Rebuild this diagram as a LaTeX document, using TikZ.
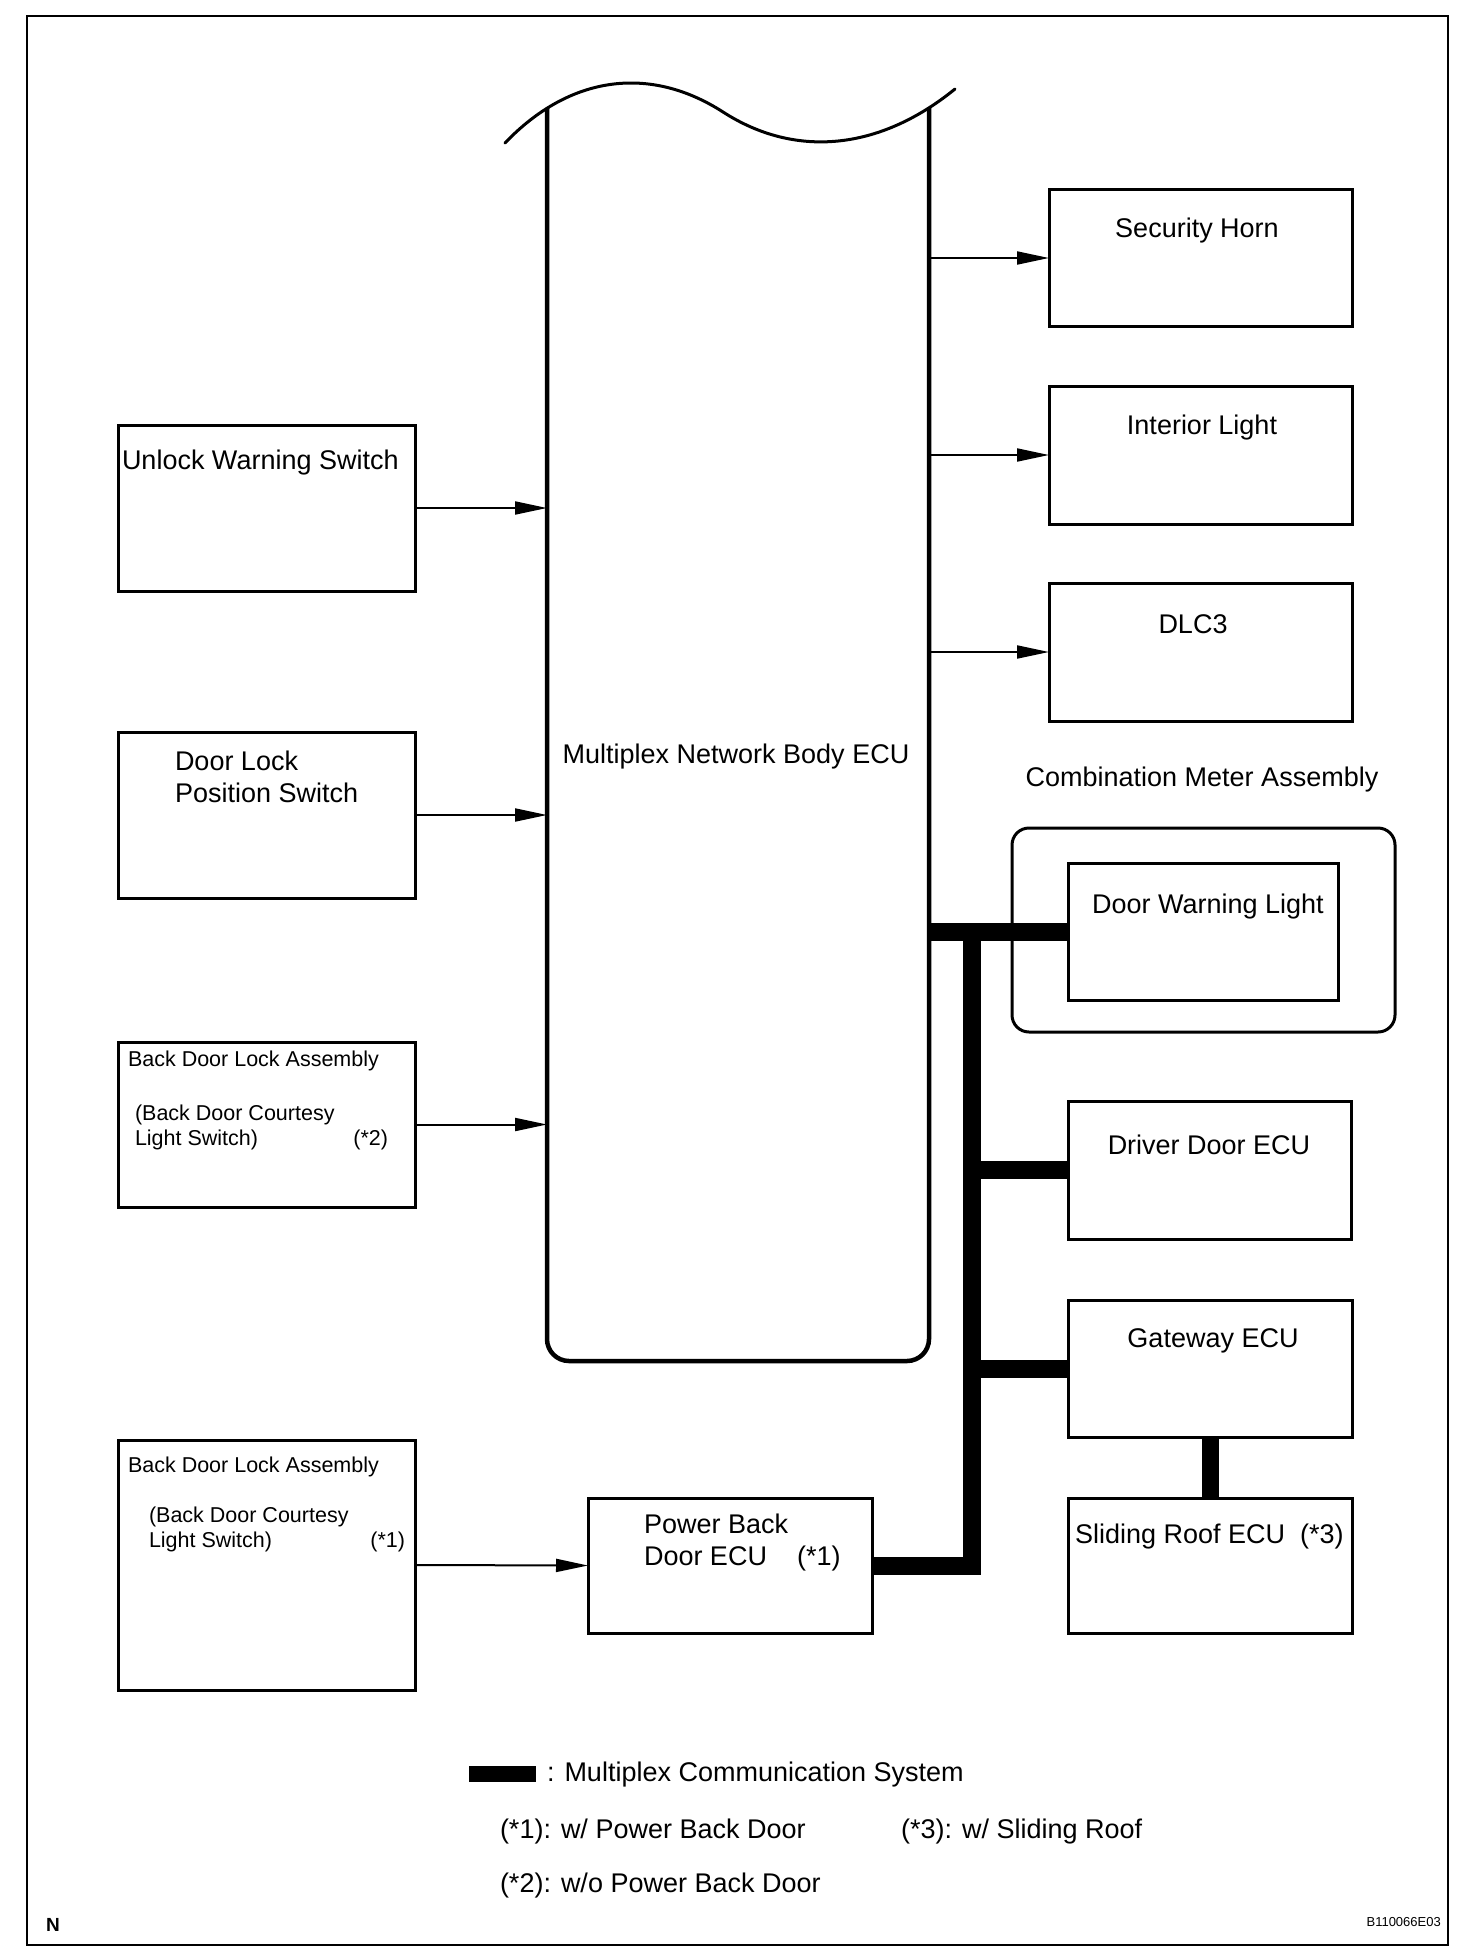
\documentclass[tikz,border=0pt]{standalone}
\usepackage{fontspec}
\setmainfont{Liberation Sans}
\usetikzlibrary{arrows.meta,calc}
\begin{document}
\begin{tikzpicture}[x=1pt,y=-1pt,
  box/.style={draw, line width=3pt, inner sep=0pt, outer sep=0pt, rectangle},
  big/.style={font=\fontsize{27}{32}\selectfont, inner sep=0pt, outer sep=0pt},
  small/.style={font=\fontsize{21.5}{25}\selectfont, inner sep=0pt, outer sep=0pt},
  arr/.style={line width=2pt, -{Triangle[length=32pt,width=13pt]}},
  bus/.style={line width=18pt, line join=miter},
  eculine/.style={line width=4.5pt},
  wave/.style={line width=3pt, line cap=round},
]
\useasboundingbox (0,0) rectangle (1472,1958);
% outer frame
\draw[line width=2.5pt] (27,16) rectangle (1448,1945);

% Multiplex Network Body ECU
\node[inner sep=0pt, outer sep=0pt, minimum width=382pt, minimum height=1253pt] (ecu) at (738,734.5) {};
\draw[eculine, rounded corners=22pt] (547,108) -- (547,1361) -- (929,1361) -- (929,108);
\draw[wave] (505,143) .. controls (570,75) and (650,65) .. (723,112) .. controls (796,159) and (880,150) .. (955,89);
\node[big, anchor=base] (ecut) at (736,763) {Multiplex Network Body ECU};

% right output boxes
\node[box, minimum width=303pt, minimum height=137pt] (horn) at (1200.5,258) {};
\node[box, minimum width=303pt, minimum height=138pt] (interior) at (1200.5,455) {};
\node[box, minimum width=303pt, minimum height=138pt] (dlc) at (1200.5,652) {};
\node[big, anchor=base] (hornt) at (1197,238) {Security Horn};
\node[big, anchor=base] (interiort) at (1202,434) {Interior Light};
\node[big, anchor=base] (dlct) at (1193,633) {DLC3};
\draw[arr] (horn.west -| ecu.east) -- (horn.west);
\draw[arr] (interior.west -| ecu.east) -- (interior.west);
\draw[arr] (dlc.west -| ecu.east) -- (dlc.west);

% left input boxes
\node[box, minimum width=297pt, minimum height=166pt] (unlock) at (266.5,508) {};
\node[box, minimum width=297pt, minimum height=166pt] (doorlock) at (266.5,815) {};
\node[box, minimum width=297pt, minimum height=165pt] (bdltwo) at (266.5,1124.5) {};
\node[box, minimum width=297pt, minimum height=250pt] (bdlone) at (266.5,1565) {};
\node[big, anchor=base west] (unlockt) at (122,469) {Unlock Warning Switch};
\node[big, anchor=base west] (doorlockta) at (175,770) {Door Lock};
\node[big, anchor=base west] (doorlocktb) at (175,802) {Position Switch};
\node[small, anchor=base west] (bdltwota) at (128,1066) {Back Door Lock Assembly};
\node[small, anchor=base west] (bdltwotb) at (135,1120) {(Back Door Courtesy};
\node[small, anchor=base west] (bdltwotc) at (135,1145) {Light Switch)};
\node[small, anchor=base east] (bdltwotd) at (388,1145) {(*2)};
\node[small, anchor=base west] (bdloneta) at (128,1472) {Back Door Lock Assembly};
\node[small, anchor=base west] (bdlonetb) at (149,1522) {(Back Door Courtesy};
\node[small, anchor=base west] (bdlonetc) at (149,1547) {Light Switch)};
\node[small, anchor=base east] (bdlonetd) at (405,1547) {(*1)};
\draw[arr] (unlock.east) -- (unlock.east -| ecu.west);
\draw[arr] (doorlock.east) -- (doorlock.east -| ecu.west);
\draw[arr] (bdltwo.east) -- (bdltwo.east -| ecu.west);

% Power Back Door ECU
\node[box, minimum width=284pt, minimum height=135pt] (pbd) at (730,1565.5) {};
\node[big, anchor=base west] (pbdta) at (644,1533) {Power Back};
\node[big, anchor=base west] (pbdtb) at (644,1565) {Door ECU};
\node[big, anchor=base west] (pbdtc) at (797,1565) {(*1)};
\draw[arr] (bdlone.east) -- (pbd.west);

% Combination meter
\node[draw, line width=3pt, rounded corners=17pt, inner sep=0pt, outer sep=0pt, minimum width=383pt, minimum height=204pt] (combo) at (1203.5,930) {};
\node[big, anchor=base] (combot) at (1202,786) {Combination Meter Assembly};
\node[box, minimum width=270pt, minimum height=137pt] (dwl) at (1203,931.5) {};
\node[big, anchor=base west] (dwlt) at (1092,913) {Door Warning Light};

% other ECUs
\node[box, minimum width=283pt, minimum height=138pt] (driver) at (1209.5,1170) {};
\node[big, anchor=base] (drivert) at (1209,1154) {Driver Door ECU};
\node[box, minimum width=284pt, minimum height=137pt] (gateway) at (1210,1368.5) {};
\node[big, anchor=base] (gatewayt) at (1213,1347) {Gateway ECU};
\node[box, minimum width=284pt, minimum height=135pt] (sliding) at (1210,1565.5) {};
\node[big, anchor=base west] (slidingt) at (1075,1543) {Sliding Roof ECU\ \ (*3)};

% multiplex bus
\coordinate (bt) at (972,931.5);
\draw[bus] (dwl.west -| ecu.east) -- (dwl.west);
\draw[bus] (pbd.east) -| (bt);
\draw[bus] (driver.west -| bt) -- (driver.west);
\draw[bus] (gateway.west -| bt) -- (gateway.west);
\draw[line width=17pt] (gateway.south) -- (sliding.north);

% legend
\node[fill=black, inner sep=0pt, outer sep=0pt, minimum width=67pt, minimum height=16pt] (legbar) at (502.5,1774) {};
\node[big, anchor=base west] (legbus) at (547,1781) {: Multiplex Communication System};
\node[big, anchor=base west] (legone) at (500,1838) {(*1): w/ Power Back Door};
\node[big, anchor=base west] (legthree) at (901,1838) {(*3): w/ Sliding Roof};
\node[big, anchor=base west] (legtwo) at (500,1892) {(*2): w/o Power Back Door};

% corner marks
\node[font=\fontsize{19}{22}\selectfont\bfseries, inner sep=0pt, anchor=base west] (nmark) at (46,1931) {N};
\node[font=\fontsize{13}{15}\selectfont, inner sep=0pt, anchor=base east] (code) at (1441,1926) {B110066E03};
\end{tikzpicture}
\end{document}
